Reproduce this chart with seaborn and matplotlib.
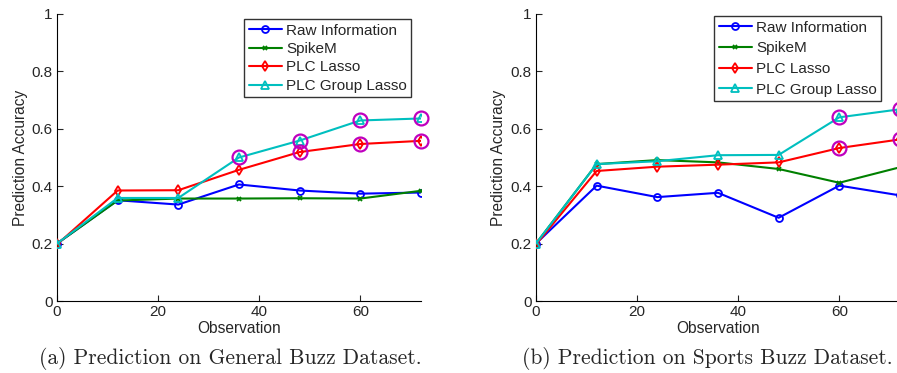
import numpy as np
import pandas as pd
import matplotlib
matplotlib.use("Agg")
import matplotlib.pyplot as plt
import seaborn as sns
from matplotlib.lines import Line2D

sns.set_style("white")
plt.rcParams['font.family'] = ['Liberation Sans', 'DejaVu Sans']

observation = [0, 12, 24, 36, 48, 60, 72]
series_names = ["Raw Information", "SpikeM", "PLC Lasso", "PLC Group Lasso"]

general_raw = [0.200, 0.351, 0.336, 0.406, 0.385, 0.374, 0.378]
general_spikem = [0.200, 0.350, 0.357, 0.357, 0.358, 0.357, 0.384]
general_plc_lasso = [0.197, 0.385, 0.386, 0.457, 0.519, 0.547, 0.558]
general_plc_group = [0.200, 0.359, 0.359, 0.500, 0.559, 0.629, 0.636]

sports_raw = [0.200, 0.402, 0.362, 0.377, 0.290, 0.402, 0.368]
sports_spikem = [0.200, 0.477, 0.491, 0.483, 0.460, 0.412, 0.466]
sports_plc_lasso = [0.197, 0.453, 0.468, 0.475, 0.483, 0.533, 0.563]
sports_plc_group = [0.200, 0.477, 0.487, 0.508, 0.509, 0.640, 0.668]

# highlighted (circled) points: indices into observation
general_hl_lasso = [4, 5, 6]
general_hl_group = [3, 4, 5, 6]
sports_hl_lasso = [5, 6]
sports_hl_group = [5, 6]

captions = ["(a) Prediction on General Buzz Dataset.",
            "(b) Prediction on Sports Buzz Dataset."]

colors = ["#0000ff", "#008000", "#ff0000", "#00bfbf"]
markers = ["o", "x", "d", "^"]
msizes = [5, 3, 5.5, 6]

fig = plt.figure(figsize=(8.97, 3.73), dpi=100)
ax1 = fig.add_axes([0.0635, 0.193, 0.4058, 0.7695])
ax2 = fig.add_axes([0.5975, 0.193, 0.4058, 0.7695])

# legend: (left px, top px, label spacing)
panels = [
    (ax1, [general_raw, general_spikem, general_plc_lasso, general_plc_group],
     general_hl_lasso, general_hl_group, (244, 19, 0.29)),
    (ax2, [sports_raw, sports_spikem, sports_plc_lasso, sports_plc_group],
     sports_hl_lasso, sports_hl_group, (714, 16, 0.44)),
]

FS = 11
for ax, vals, hl_l, hl_g, legpos in panels:
    for name, v, c, m, ms in zip(series_names, vals, colors, markers, msizes):
        df = pd.DataFrame({"Observation": observation, "Accuracy": v})
        sns.lineplot(data=df, x="Observation", y="Accuracy", ax=ax, color=c,
                     linewidth=1.5, marker=m, markersize=ms,
                     markerfacecolor="none", markeredgecolor=c,
                     markeredgewidth=1.3, label=name, legend=False, zorder=3)
    for idx_list, v in [(hl_l, vals[2]), (hl_g, vals[3])]:
        hx = [observation[i] for i in idx_list]
        hy = [v[i] for i in idx_list]
        ax.plot(hx, hy, linestyle="none", marker="o", markersize=10,
                markerfacecolor="none", markeredgecolor="#bf00bf",
                markeredgewidth=1.6, zorder=4, clip_on=False)
    ax.set_xlim(0, 72)
    ax.set_ylim(0, 1)
    ax.set_xticks([0, 20, 40, 60])
    ax.set_yticks([0, 0.2, 0.4, 0.6, 0.8, 1.0])
    ax.set_yticklabels(["0", "0.2", "0.4", "0.6", "0.8", "1"])
    ax.tick_params(direction="in", length=4, width=0.8, labelsize=FS,
                   left=True, bottom=True, pad=3)
    for s in ["top", "right"]:
        ax.spines[s].set_visible(False)
    for s in ["left", "bottom"]:
        ax.spines[s].set_color("black")
        ax.spines[s].set_linewidth(0.8)
    ax.set_xlabel("Observation", fontsize=11.2, labelpad=1)
    ax.set_ylabel("Prediction Accuracy", fontsize=11.2, labelpad=3)
    handles = [Line2D([0], [0], color=c, lw=1.5, marker=m, markersize=ms,
                      markerfacecolor="none", markeredgecolor=c, markeredgewidth=1.3)
               for c, m, ms in zip(colors, markers, msizes)]
    leg = fig.legend(handles, series_names, loc="upper left",
                     bbox_to_anchor=(legpos[0] / 897, 1 - legpos[1] / 373),
                     bbox_transform=fig.transFigure,
                     fontsize=FS, frameon=True, fancybox=False,
                     handlelength=2.2, handletextpad=0.25, labelspacing=legpos[2],
                     borderpad=0.3, borderaxespad=0)
    leg.get_frame().set_edgecolor("black")
    leg.get_frame().set_linewidth(1.0)

fig.text(230 / 897, 1 - 358 / 373, captions[0], ha="center", va="center",
         fontsize=15.5, family="cmr10")
fig.text(707 / 897, 1 - 358 / 373, captions[1], ha="center", va="center",
         fontsize=15.5, family="cmr10")

fig.savefig("out.png", dpi=100)
